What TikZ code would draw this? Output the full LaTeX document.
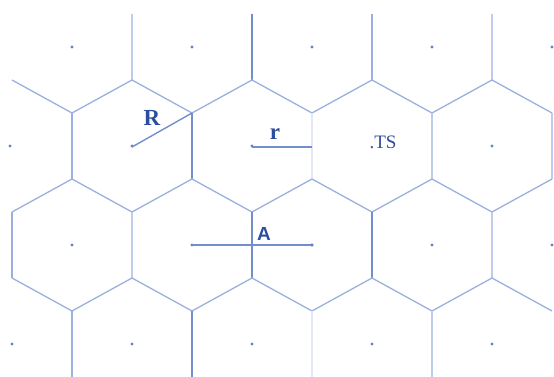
\documentclass[tikz,border=0pt]{standalone}
\usepackage{fontspec}
\setmainfont{Liberation Serif}
\newfontfamily\labsans{Liberation Sans}
\definecolor{hexlight}{RGB}{190,205,236}
\definecolor{hexmid}{RGB}{155,176,222}
\definecolor{hexdark}{RGB}{115,142,206}
\definecolor{hexfaint}{RGB}{226,232,245}
\definecolor{labblue}{RGB}{44,78,158}
\definecolor{dotblue}{RGB}{100,128,198}
\tikzset{
  gridline/.style={hexmid, line width=1.3pt},
  lightline/.style={hexlight, line width=1.3pt},
  darkline/.style={hexdark, line width=1.6pt},
  faintline/.style={hexfaint, line width=1.3pt},
  measure/.style={hexdark, line width=1.4pt},
  lab/.style={text=labblue, inner sep=0pt},
  cdot/.style={fill=dotblue, draw=none}
}
\begin{document}
\begin{tikzpicture}[x=1pt,y=-1pt]
\useasboundingbox (0,0) rectangle (554,377);
% top verticals (row 0 hexes)
\draw[lightline] (132,14) -- (132,80);
\draw[darkline] (252,14) -- (252,80);
\draw[gridline] (372,14) -- (372,80);
\draw[lightline] (492,14) -- (492,80);
% zigzag A
\draw[gridline] (12,80) -- (72,113) -- (132,80) -- (192,113) -- (252,80) -- (312,113) -- (372,80) -- (432,113) -- (492,80) -- (552,113);
% row 1 verticals
\draw[gridline] (72,113) -- (72,179);
\draw[darkline] (192,113) -- (192,179);
\draw[faintline] (312,113) -- (312,179);
\draw[lightline] (432,113) -- (432,179);
\draw[lightline] (552,113) -- (552,179);
% zigzag B
\draw[gridline] (12,212) -- (72,179) -- (132,212) -- (192,179) -- (252,212) -- (312,179) -- (372,212) -- (432,179) -- (492,212) -- (552,179);
% row 2 verticals
\draw[gridline] (12,212) -- (12,278);
\draw[lightline] (132,212) -- (132,278);
\draw[darkline] (252,212) -- (252,278);
\draw[darkline] (372,212) -- (372,278);
\draw[lightline] (492,212) -- (492,278);
% zigzag C
\draw[gridline] (12,278) -- (72,311) -- (132,278) -- (192,311) -- (252,278) -- (312,311) -- (372,278) -- (432,311) -- (492,278) -- (552,311);
% bottom verticals
\draw[gridline] (72,311) -- (72,377);
\draw[darkline] (192,311) -- (192,377);
\draw[faintline] (312,311) -- (312,377);
\draw[lightline] (432,311) -- (432,377);
% centre dots
\foreach \x in {72,192,312,432,552} {\fill[cdot] (\x,47) circle (1.7pt); \fill[cdot] (\x,245) circle (1.7pt);}
\foreach \x in {10,132,252,492} {\fill[cdot] (\x,146) circle (1.7pt);}
\foreach \x in {12,132,252,372,492} {\fill[cdot] (\x,344) circle (1.7pt);}
% measures
\coordinate (cR) at (132,147);
\coordinate (vR) at (192,113);
\coordinate (cr) at (252,147);
\coordinate (er) at (312,147);
\coordinate (aL) at (192,245);
\coordinate (aR) at (312,245);
\draw[measure] (cR) -- (vR);
\draw[measure] (cr) -- (er);
\draw[measure] (aL) -- (aR);
\fill[cdot] (aR) circle (1.7pt);
% labels
\node[lab, font=\fontsize{23}{23}\selectfont\bfseries] (labR) at (152,118) {R};
\node[lab, font=\fontsize{23}{23}\selectfont\bfseries, anchor=base] (labr) at (275,139.5) {r};
\node[lab, font=\fontsize{19}{19}\selectfont\labsans\bfseries] (labA) at (264,234) {A};
\node[lab, font=\fontsize{19}{19}\selectfont] (labTS) at (383,142) {.TS};
\end{tikzpicture}
\end{document}
